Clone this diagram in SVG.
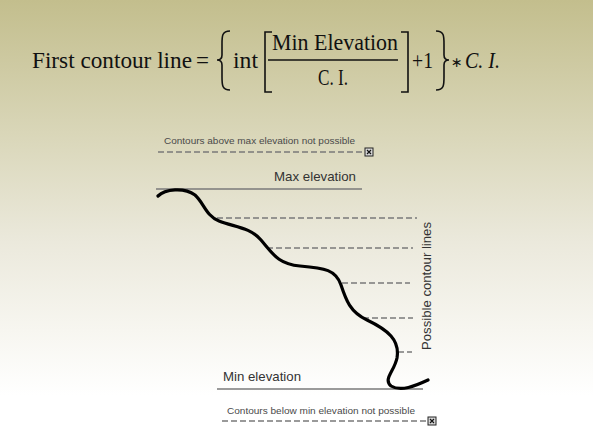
<svg xmlns="http://www.w3.org/2000/svg" width="593" height="440" viewBox="0 0 593 440">
<defs>
<linearGradient id="bg" x1="0" y1="0" x2="0" y2="1">
<stop offset="0" stop-color="#c3be8d"/>
<stop offset="0.3" stop-color="#d9d6b8"/>
<stop offset="0.55" stop-color="#ebe9dc"/>
<stop offset="0.75" stop-color="#f7f6f0"/>
<stop offset="0.9" stop-color="#ffffff"/>
<stop offset="1" stop-color="#ffffff"/>
</linearGradient>
<g id="xbox">
<rect x="0" y="0" width="8" height="8" fill="#d8d8d8" stroke="#222" stroke-width="1"/>
<path d="M2,2 L6,6 M6,2 L2,6" stroke="#111" stroke-width="1.2"/>
</g>
</defs>
<style>
.eq{font-family:"Liberation Serif",serif;fill:#111;}
.sm{font-family:"Liberation Sans",Arial,sans-serif;font-size:9.5px;fill:#4a4a4a;}
.lb{font-family:"Liberation Sans",Arial,sans-serif;font-size:13px;fill:#333;}
.solid{stroke:#7a7a7a;stroke-width:1.6;fill:none;}
.dash{stroke:#7a7a7a;stroke-width:1.3;stroke-dasharray:6 3;fill:none;}
.br{stroke:#111;stroke-width:1.6;fill:none;}
</style>
<rect width="593" height="440" fill="url(#bg)"/>
<g id="equation">
<text class="eq" x="32" y="68" font-size="23" textLength="160" lengthAdjust="spacingAndGlyphs">First contour line</text>
<text class="eq" x="196" y="68" font-size="23">=</text>
<path class="br" d="M230,31 C222,31 222,36 222,44 L222,55 C222,58 220,60 217,60 C220,60 222,62 222,65 L222,77 C222,85 222,90 230,90"/>
<text class="eq" x="233" y="68" font-size="23" textLength="25" lengthAdjust="spacingAndGlyphs">int</text>
<path class="br" d="M272,32 L265,32 L265,92 L272,92"/>
<text class="eq" x="272" y="50" font-size="23" textLength="126" lengthAdjust="spacingAndGlyphs">Min Elevation</text>
<line x1="268" y1="60" x2="398" y2="60" stroke="#111" stroke-width="1.3"/>
<text class="eq" x="318" y="85" font-size="23" textLength="30" lengthAdjust="spacingAndGlyphs">C. I.</text>
<path class="br" d="M401,32 L408,32 L408,92 L401,92"/>
<text class="eq" x="412" y="68" font-size="23" textLength="21" lengthAdjust="spacingAndGlyphs">+1</text>
<path class="br" d="M436,31 C444,31 444,36 444,44 L444,55 C444,58 446,60 449,60 C446,60 444,62 444,65 L444,77 C444,85 444,90 436,90"/>
<text x="451" y="67" font-size="14" font-family="'DejaVu Sans',sans-serif" fill="#111">∗</text>
<text class="eq" x="465" y="68" font-size="23" font-style="italic" textLength="35" lengthAdjust="spacingAndGlyphs">C. I.</text>
</g>
<g id="connectors">
<line class="dash" x1="158" y1="152" x2="364" y2="152"/>
<use href="#xbox" x="365" y="148"/>
<line class="solid" x1="156" y1="189" x2="362" y2="189"/>
<line class="dash" x1="217" y1="218" x2="417" y2="218"/>
<line class="dash" x1="267" y1="248" x2="413" y2="248"/>
<line class="dash" x1="342" y1="283" x2="410" y2="283"/>
<line class="dash" x1="363" y1="318" x2="413" y2="318"/>
<line class="dash" x1="398" y1="352" x2="412" y2="352"/>
<line class="solid" x1="217" y1="389" x2="423" y2="389"/>
<line class="dash" x1="222" y1="421" x2="427" y2="421"/>
<use href="#xbox" x="428" y="417"/>
</g>
<g id="terrain">
<path d="M158,196 C165,189 184,187 195,195 C204,203 206,216 219,221 C234,227 250,227 261,240 C273,254 278,264 300,266 C325,268 336,270 341,285 C346,300 350,312 367,320 C388,330 400,340 397,358 C394,372 383,379 391,386 C401,392 415,386 428,380" stroke="#000" stroke-width="3.2" fill="none" stroke-linecap="round"/>
</g>
<g id="label-above">
<text class="sm" x="164" y="144" textLength="191" lengthAdjust="spacingAndGlyphs">Contours above max elevation not possible</text>
</g>
<g id="label-max">
<text class="lb" x="274" y="181" textLength="82" lengthAdjust="spacingAndGlyphs">Max elevation</text>
</g>
<g id="label-possible">
<text class="lb" transform="translate(431,350) rotate(-90)" textLength="128" lengthAdjust="spacingAndGlyphs">Possible contour lines</text>
</g>
<g id="label-min">
<text class="lb" x="223" y="381" textLength="78" lengthAdjust="spacingAndGlyphs">Min elevation</text>
</g>
<g id="label-below">
<text class="sm" x="227" y="414" textLength="188" lengthAdjust="spacingAndGlyphs">Contours below min elevation not possible</text>
</g>
</svg>
